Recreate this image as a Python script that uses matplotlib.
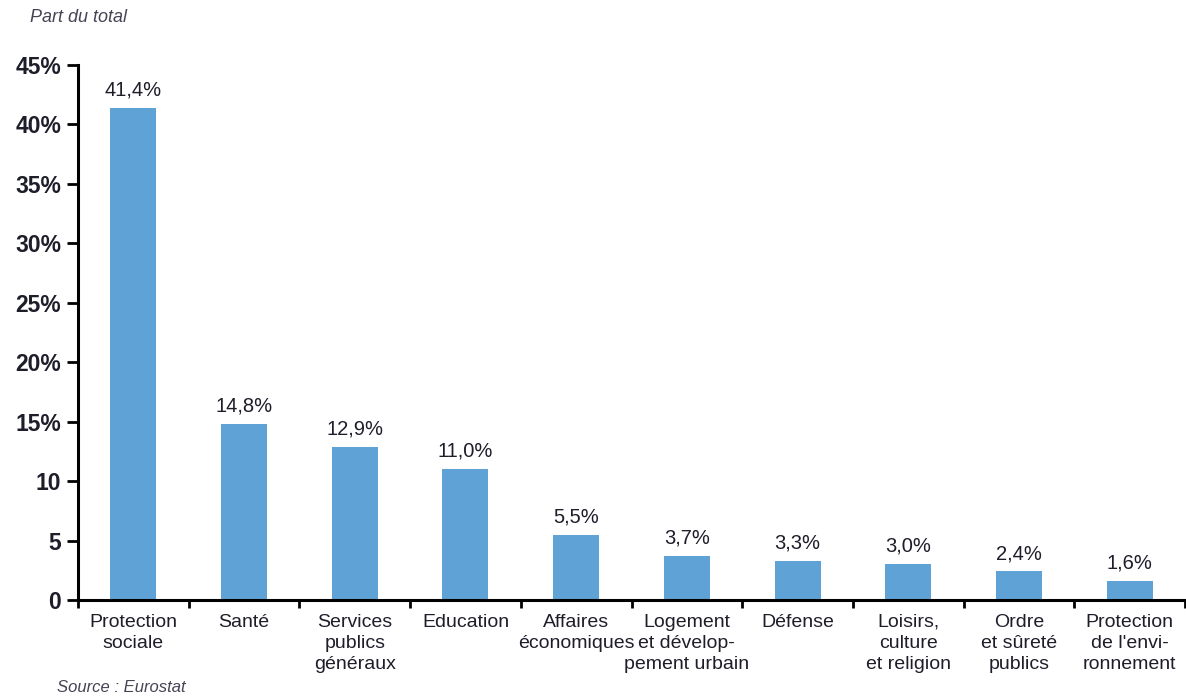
import matplotlib
matplotlib.use("Agg")
import matplotlib.pyplot as plt
from matplotlib.ticker import FixedLocator

categories = ["Protection\nsociale", "Santé", "Services\npublics\ngénéraux", "Education",
              "Affaires\néconomiques", "Logement\net dévelop-\npement urbain", "Défense",
              "Loisirs,\nculture\net religion", "Ordre\net sûreté\npublics",
              "Protection\nde l'envi-\nronnement"]
values = [41.4, 14.8, 12.9, 11.0, 5.5, 3.7, 3.3, 3.0, 2.4, 1.6]
value_labels = ["41,4%", "14,8%", "12,9%", "11,0%", "5,5%", "3,7%", "3,3%", "3,0%", "2,4%", "1,6%"]
ytick_values = [0, 5, 10, 15, 20, 25, 30, 35, 40, 45]
ytick_labels = ["0", "5", "10", "15%", "20%", "25%", "30%", "35%", "40%", "45%"]

FONT = ["Liberation Sans", "DejaVu Sans"]
plt.rcParams['font.family'] = FONT
TXT = "#1e1e2a"
BAR = "#5fa3d6"

fig = plt.figure(figsize=(11.86, 6.98), dpi=100)
ax = fig.add_axes([78/1186, 98/698, (1185-78)/1186, (600-65)/698])

x = list(range(len(values)))
ax.bar(x, values, width=0.415, color=BAR, zorder=2)
for xi, v, lab in zip(x, values, value_labels):
    ax.annotate(lab, (xi, v), xytext=(0, 6), textcoords="offset points",
                ha="center", va="bottom", fontsize=14.5, color=TXT)

ax.set_xlim(-0.5, len(values) - 0.5)
ax.set_ylim(0, 45)

ax.set_yticks(ytick_values)
ax.set_yticklabels(ytick_labels, fontsize=16.5, fontweight="bold", color=TXT)
ax.tick_params(axis="y", direction="out", length=8, width=2, pad=4, color="black")

ax.set_xticks(x)
ax.set_xticklabels(categories, fontsize=14, color=TXT, linespacing=1.33, va="top")
ax.tick_params(axis="x", which="major", length=0, pad=10)
ax.xaxis.set_minor_locator(FixedLocator([i - 0.5 for i in range(len(values) + 1)]))
ax.tick_params(axis="x", which="minor", direction="out", length=6, width=2, color="black")

for s in ["top", "right"]:
    ax.spines[s].set_visible(False)
for s in ["left", "bottom"]:
    ax.spines[s].set_linewidth(2.2)
    ax.spines[s].set_color("black")
    ax.spines[s].set_zorder(3)

fig.text(30/1186, 1 - 18/698, "Part du total", fontsize=13, style="italic",
         color="#444455", ha="left", va="center")
fig.text(57/1186, 1 - 688/698, "Source : Eurostat", fontsize=12, style="italic",
         color="#444455", ha="left", va="center")

fig.savefig("out.png", dpi=100)
